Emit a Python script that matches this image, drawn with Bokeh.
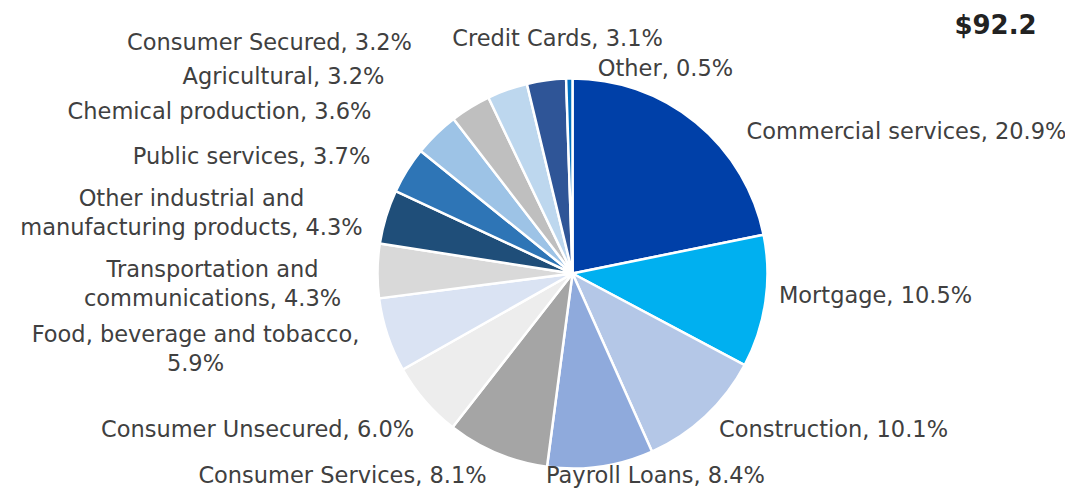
import math
from bokeh.plotting import figure
from bokeh.models import Range1d, ColumnDataSource
from bokeh.core.properties import value
from bokeh.embed import file_html
from bokeh.resources import INLINE

categories = ["Commercial services", "Mortgage", "Construction", "Payroll Loans",
              "Consumer Services", "Consumer Unsecured", "Food, beverage and tobacco",
              "Transportation and communications", "Other industrial and manufacturing products",
              "Public services", "Chemical production", "Agricultural", "Consumer Secured",
              "Credit Cards", "Other"]
shares = [20.9, 10.5, 10.1, 8.4, 8.1, 6.0, 5.9, 4.3, 4.3, 3.7, 3.6, 3.2, 3.2, 3.1, 0.5]
label_texts = ["Commercial services, 20.9%", "Mortgage, 10.5%", "Construction, 10.1%",
               "Payroll Loans, 8.4%", "Consumer Services, 8.1%", "Consumer Unsecured, 6.0%",
               "Food, beverage and tobacco,\n5.9%", "Transportation and\ncommunications, 4.3%",
               "Other industrial and\nmanufacturing products, 4.3%", "Public services, 3.7%",
               "Chemical production, 3.6%", "Agricultural, 3.2%", "Consumer Secured, 3.2%",
               "Credit Cards, 3.1%", "Other, 0.5%"]
colors = ["#0040A8", "#00B0F0", "#B4C7E7", "#8FAADC", "#A5A5A5", "#EDEDED", "#DAE3F3",
          "#D9D9D9", "#1F4E79", "#2E75B6", "#9DC3E6", "#BFBFBF", "#BDD7EE", "#2F5597", "#0070C0"]
total_label = "$92.2"

# layout (screen pixel positions of label centres)
label_x = [906, 875, 833, 655, 342, 257, 195, 212, 191, 251, 219, 283, 269, 557, 665]
label_y = [130, 294, 428, 474, 474, 428, 348, 283, 212, 155, 110, 75, 41, 37, 67]

W, H = 1065, 488
cx, cy, r = 572, 273, 195

p = figure(width=W, height=H, output_backend="svg", toolbar_location=None,
           x_range=Range1d(0, W), y_range=Range1d(496 - H, 496),
           min_border=0, outline_line_color=None)
p.axis.visible = False
p.grid.visible = False

tot = sum(shares)
starts, ends = [], []
cum = 0.0
for s in shares:
    a0 = math.pi / 2 - 2 * math.pi * (cum + s) / tot
    a1 = math.pi / 2 - 2 * math.pi * cum / tot
    starts.append(a0)
    ends.append(a1)
    cum += s

src = ColumnDataSource(dict(start=starts, end=ends, color=colors, cat=categories))
p.wedge(x=cx, y=496 - cy, radius=r, start_angle="start", end_angle="end",
        fill_color="color", line_color="white", line_width=2.5, source=src)

lsrc = ColumnDataSource(dict(x=label_x, y=[496 - v for v in label_y], t=label_texts))
p.text(x="x", y="y", text="t", source=lsrc, text_font=value("DejaVu Sans"),
       text_font_size="22.5px", text_color="#404040", text_align="center",
       text_baseline="middle", text_line_height=1.1)

p.text(x=[995], y=[496 - 24], text=[total_label], text_font=value("DejaVu Sans"),
       text_font_size="26px", text_font_style="bold", text_color="#222222",
       text_align="center", text_baseline="middle")

open("out.html", "w").write(file_html(p, INLINE))
